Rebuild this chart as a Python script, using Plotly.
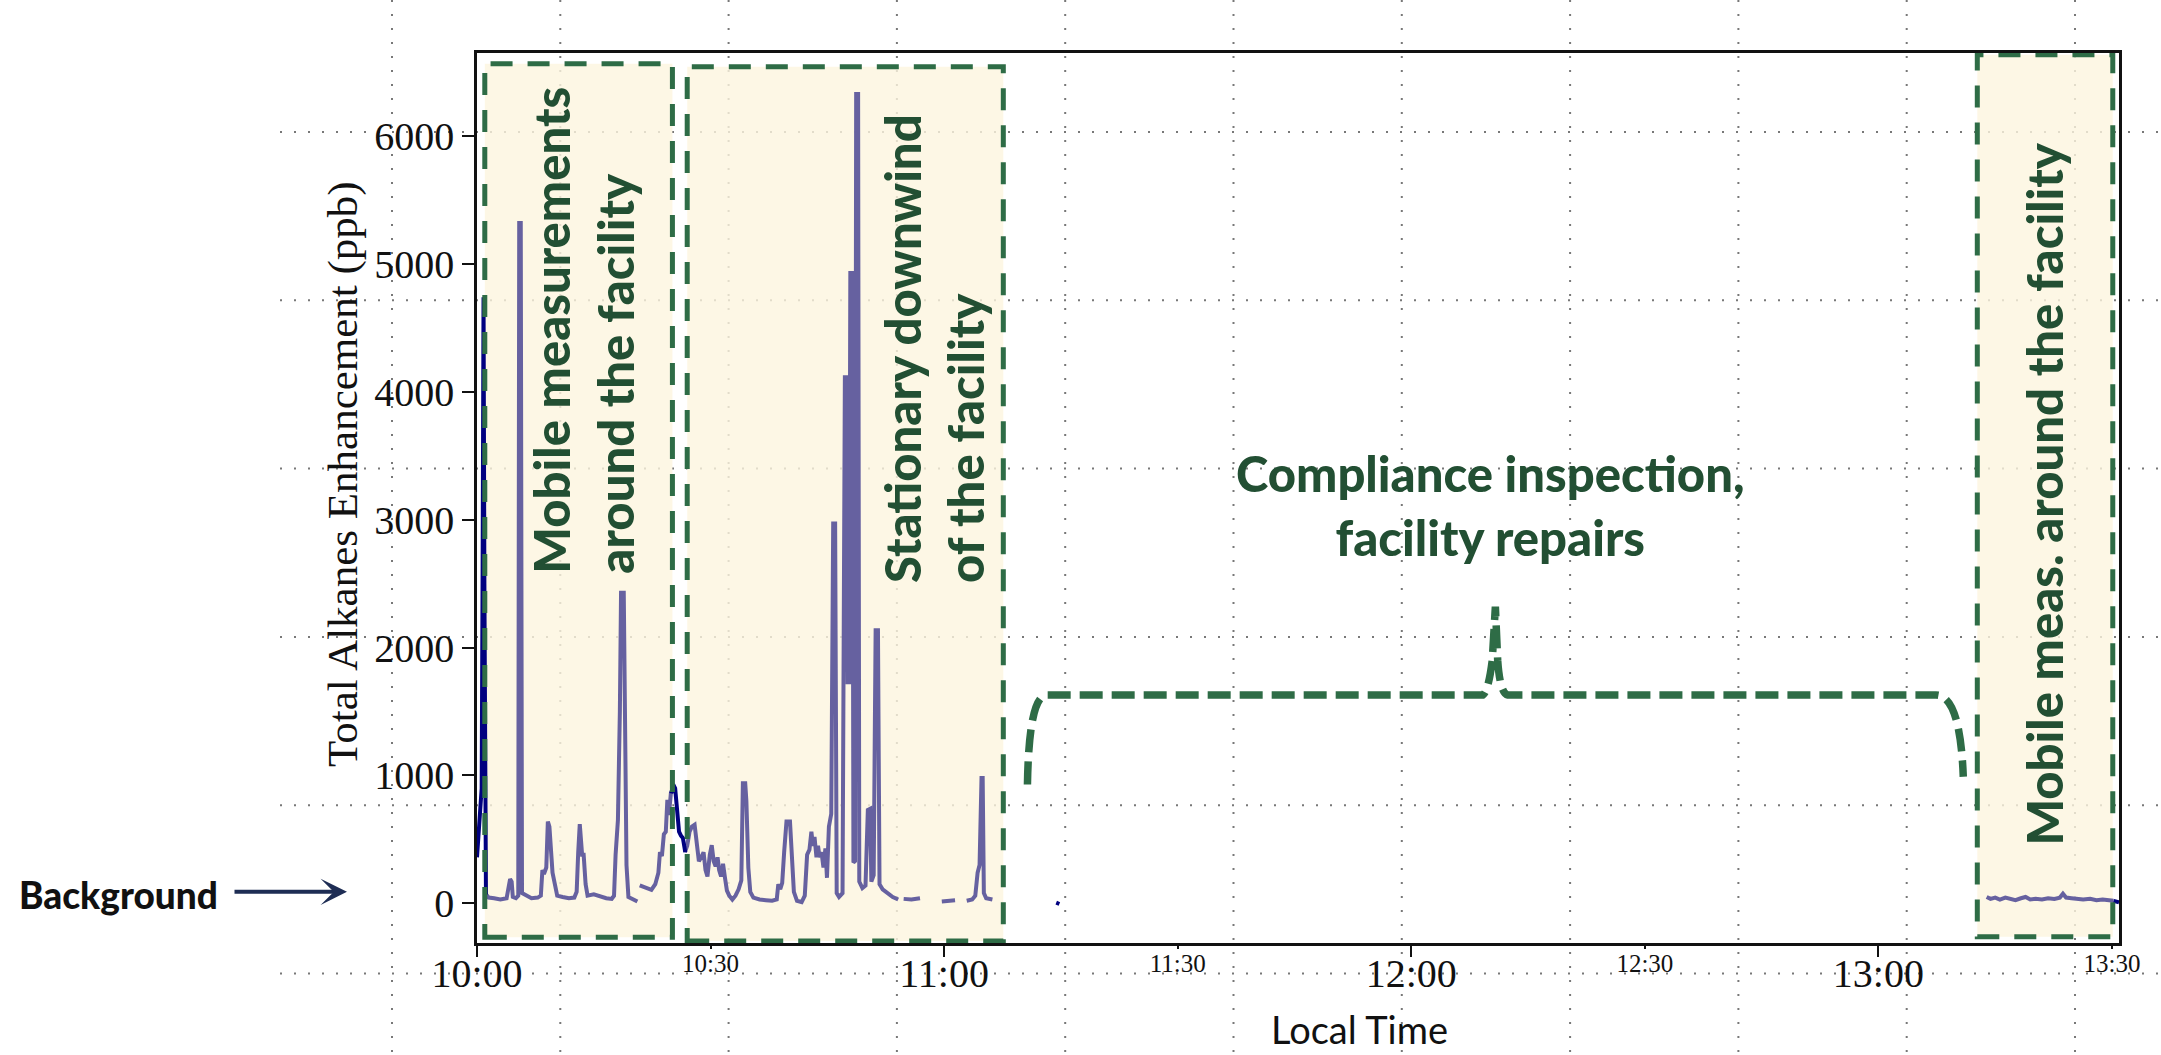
import plotly.graph_objects as go

# ---------------- data (time = minutes after 10:00 local time) ----------------
purple_t = [1.15, 1.5, 2.2, 3.0, 3.8, 4.05, 4.25, 4.45, 4.6, 5.0, 5.3, 5.42, 5.62, 5.78, 6.3, 7.0, 7.8,
            8.2, 8.4, 8.6, 8.9, 9.1, 9.3, 9.5, 9.7, 10.0, 10.3, 11.0, 11.8, 12.5, 12.8, 13.0, 13.2,
            13.5, 13.7, 13.95, 14.2, 15.0, 15.8, 16.6, 17.3, 17.6, 17.8, 18.1, 18.35, 18.5, 18.85,
            19.05, 19.2, 19.45, 20.0, 20.6, None,
            20.9, 21.6, 22.4, 22.9, 23.3, 23.5, 23.75, 24.0, 24.25, 24.45, 24.65, 24.9, 25.05, None,
            26.7, 27.0, 27.3, 27.6, 27.95, 28.2, 28.5, 28.8, 29.1, 29.35, 29.6, 29.9, 30.15, 30.4,
            30.65, 30.9, 31.1, 31.35, 31.6, 31.85, 32.1, 32.4, 32.8, 33.2, 33.6, 33.95, 34.15, 34.45,
            34.6, 34.85, 35.1, 35.5, 36.3, 37.1, 37.9, 38.5, 38.7, 38.95, 39.2, 39.45, 39.75, 40.2,
            40.45, 40.7, 41.1, 41.7, 42.1, 42.4, 42.7, 42.95, 43.15, 43.35, 43.6, 43.8, 44.0, 44.25,
            44.5, 44.75, 44.95, 45.2, 45.5, 45.75, 46.0, 46.2, 46.5, 46.95, 47.25, 47.5, 47.6, 47.8,
            47.95, 48.2, 48.35, 48.55, 48.7, 48.95, 49.1, 49.5, 49.9, 50.2, 50.5, 50.65, 50.95, 51.2,
            51.5, 51.7, 52.1, 52.7, 53.4, 54.1, None,
            54.8, 55.8, 56.9, None,
            59.7, 60.5, 61.4, None,
            62.9, 63.6, 64.0, 64.3, 64.55, 64.8, 64.95, 65.1, 65.4, 66.2, None,
            193.9, 194.4, 195.0, 195.6, 196.3, 197.0, 197.6, 198.3, 198.9, 199.5, 200.2, 201.0,
            201.8, 202.6, 203.3, 203.7, 204.1, 204.8, 205.5, 206.3, 207.2, 208.0, 208.8, 209.6, 210.2]
purple_v = [70, 45, 40, 30, 40, 120, 190, 170, 50, 40, 60, 5320, 5320, 80, 60, 40, 45,
            60, 260, 230, 280, 640, 600, 390, 240, 150, 60, 50, 40, 45, 90, 400, 620,
            380, 380, 150, 60, 70, 55, 40, 35, 60, 380, 650, 1500, 2430, 2430,
            1200, 300, 50, 30, 15, None,
            140, 125, 105, 150, 240, 400, 370, 540, 560, 810, 690, 860, 880, None,
            400, 450, 560, 600, 615, 470, 330, 360, 400, 260, 210, 380, 455, 330,
            290, 360, 260, 210, 310, 200, 100, 60, 30, 60, 110, 180, 940, 940,
            800, 280, 90, 45, 30, 25, 20, 30, 150, 110, 160, 400, 640, 640,
            320, 90, 20, 10, 60, 380, 420, 560, 450, 520, 360, 450, 360, 400,
            280, 430, 200, 600, 700, 2970, 2970, 80, 50, 80, 4115, 4115, 1730, 1730,
            4930, 4930, 320, 330, 6330, 6330, 170, 120, 140, 730, 740, 170, 220, 2135,
            2135, 150, 110, 80, 50, 30, None,
            35, 30, 40, None,
            15, 20, 25, None,
            20, 30, 60, 240, 300, 980, 980, 80, 40, 30, None,
            50, 35, 45, 30, 45, 35, 25, 40, 50, 30, 35, 30,
            40, 35, 45, 75, 45, 40, 35, 30, 35, 25, 30, 25, 20]

navy_t = [0.0, 0.25, 0.45, 0.6, 0.72, 0.84, 0.95, 1.05, 1.15, None,
          24.95, 25.2, 25.45, 25.7, 25.95, 26.2, 26.45, 26.75, None,
          74.4, 74.8, None,
          210.2, 210.6, 210.9]
navy_v = [360, 600, 860, 900, 2600, 4740, 2500, 600, 70, None,
          860, 930, 900, 680, 560, 530, 510, 400, None,
          5, -5, None,
          20, 12, 8]

# shaded measurement periods
box_t0 = [1.0, 27.0, 192.7]
box_t1 = [25.1, 67.6, 210.1]
box_v0 = [-265, -295, -262]
box_v1 = [6566, 6543, 6637]
box_labels = ["Mobile measurements<br>around the facility",
              "Stationary downwind<br>of the facility",
              "Mobile meas. around the facility"]
box_label_t = [13.6, 58.6, 201.3]
box_label_v = [2566, 2488, 434]

# brace marking the inspection period (t, ppb)
brace_t = [70.7, 70.9, 71.5, 73.2, 129.2, 129.9, 130.4, 130.8, 131.1, 131.4, 132.4, 187.4, 189.8, 190.5, 190.9]
brace_v = [930, 1500, 1629, 1629, 1629, 1660, 1900, 2320, 1900, 1640, 1629, 1629, 1629, 1500, 990]
brace_label = "Compliance inspection,<br>facility repairs"
brace_label_t = 130.2
brace_label_v = 3113

x_major_vals = [0, 60, 120, 180]
x_major_text = ["10:00", "11:00", "12:00", "13:00"]
x_minor_vals = [30, 90, 150, 210]
x_minor_text = ["10:30", "11:30", "12:30", "13:30"]
y_tick_vals = [0, 1000, 2000, 3000, 4000, 5000, 6000]
x_range = [0, 210.9]
y_range = [-310, 6650]

# ---------------- styling / layout geometry ----------------
W, H = 2161, 1055
L, R, T, B = 477, 2119, 53, 943          # plot area in pixels
GREEN = "#2e6c46"
TEXTGREEN = "#224f33"
SERIF = "Liberation Serif, Times New Roman, serif"
SANS = "Lato, Open Sans, sans-serif"


def px_x(p):
    return (p - L) / (R - L)


def px_y(p):
    return (B - p) / (B - T)


fig = go.Figure()
fig.add_trace(go.Scatter(x=purple_t, y=purple_v, mode="lines",
                         line=dict(color="rgb(102,97,160)", width=4),
                         connectgaps=False, showlegend=False, hoverinfo="skip"))
fig.add_trace(go.Scatter(x=navy_t, y=navy_v, mode="lines", xaxis="x2",
                         line=dict(color="rgb(0,0,128)", width=4),
                         connectgaps=False, showlegend=False, hoverinfo="skip"))

shapes = []
# background dotted guide grid (page-level)
step = 168.3
for k in range(6):
    yy = 132 + k * step
    shapes.append(dict(type="line", xref="paper", yref="paper", layer="below",
                       x0=px_x(280), x1=px_x(W), y0=px_y(yy), y1=px_y(yy),
                       line=dict(color="rgb(120,120,120)", width=2, dash="2px,12px")))
for k in range(11):
    xx = 392 + k * step
    shapes.append(dict(type="line", xref="paper", yref="paper", layer="below",
                       x0=px_x(xx), x1=px_x(xx), y0=px_y(0), y1=px_y(H),
                       line=dict(color="rgb(120,120,120)", width=2, dash="2px,12px")))
# boxes: fills below, dashed borders above
for a, b, c, d in zip(box_t0, box_t1, box_v0, box_v1):
    shapes.append(dict(type="rect", xref="x", yref="y", layer="below",
                       x0=a, x1=b, y0=c, y1=d, fillcolor="rgb(252,245,222)",
                       opacity=0.8, line=dict(width=0)))
for a, b, c, d in zip(box_t0, box_t1, box_v0, box_v1):
    shapes.append(dict(type="rect", xref="x", yref="y", layer="above",
                       x0=a, x1=b, y0=c, y1=d,
                       line=dict(color=GREEN, width=5, dash="22px,15px")))
# brace path
bt, bv = brace_t, brace_v
path = (f"M{bt[0]},{bv[0]} Q{bt[1]},{bv[2]} {bt[3]},{bv[3]} L{bt[4]},{bv[4]} "
        f"Q{bt[5]},{bv[5]} {bt[6]},{bv[6]} L{bt[7]},{bv[7]} L{bt[8]},{bv[8]} "
        f"Q{bt[9]},{bv[9]} {bt[10]},{bv[10]} L{bt[11]},{bv[11]} "
        f"Q{bt[13]},{bv[12]} {bt[14]},{bv[14]}")
shapes.append(dict(type="path", xref="x", yref="y", layer="above", path=path,
                   line=dict(color=GREEN, width=7.5, dash="23px,9px")))

annotations = []
for txt, t, v in zip(box_labels, box_label_t, box_label_v):
    annotations.append(dict(x=t, y=v, xref="x", yref="y", text=txt, textangle=-90,
                            showarrow=False, align="left", xanchor="center", yanchor="bottom",
                            font=dict(family=SANS, size=49, color=TEXTGREEN, weight=900)))
annotations.append(dict(x=brace_label_t, y=brace_label_v, xref="x", yref="y", text=brace_label,
                        showarrow=False, align="center", xanchor="center", yanchor="middle",
                        font=dict(family=SANS, size=49, color=TEXTGREEN, weight=900)))
# background arrow + label
annotations.append(dict(x=px_x(347), y=90, xref="paper", yref="y", text="", showarrow=True,
                        ax=-114, ay=0, arrowhead=3, arrowsize=1.1, arrowwidth=4,
                        arrowcolor="#1e2d54"))
annotations.append(dict(x=px_x(118), y=px_y(894), xref="paper", yref="paper", text="Background",
                        showarrow=False, xanchor="center", yanchor="middle",
                        font=dict(family=SANS, size=37, color="#111111", weight=900)))
# axis titles
annotations.append(dict(x=px_x(343), y=px_y(474), xref="paper", yref="paper",
                        text="Total Alkanes Enhancement (ppb)", textangle=-90, showarrow=False,
                        xanchor="center", yanchor="middle",
                        font=dict(family=SERIF, size=43, color="#111111")))
annotations.append(dict(x=px_x(1359), y=px_y(1029), xref="paper", yref="paper",
                        text="Local Time", showarrow=False, xanchor="center", yanchor="middle",
                        font=dict(family=SANS, size=38, color="#111111")))

fig.update_layout(
    width=W, height=H,
    margin=dict(l=L, r=W - R, t=T, b=H - B, pad=0),
    paper_bgcolor="white", plot_bgcolor="rgba(0,0,0,0)",
    showlegend=False,
    shapes=shapes, annotations=annotations,
    xaxis=dict(range=x_range, tickvals=x_major_vals, ticktext=x_major_text,
               ticks="outside", ticklen=11, tickwidth=2, tickcolor="#111",
               ticklabelstandoff=-18,
               tickfont=dict(family=SERIF, size=40, color="#111"),
               showline=True, linewidth=2.5, linecolor="#111", mirror=True,
               showgrid=False, zeroline=False),
    xaxis2=dict(range=x_range, overlaying="x", anchor="y", side="bottom",
                tickvals=x_minor_vals, ticktext=x_minor_text,
                ticks="outside", ticklen=5, tickwidth=2, tickcolor="#111",
                ticklabelstandoff=-7,
                tickfont=dict(family=SERIF, size=25, color="#111"),
                showline=False, showgrid=False, zeroline=False),
    yaxis=dict(range=y_range, tickvals=y_tick_vals, ticks="outside", ticklen=12, tickwidth=2,
               tickcolor="#111", tickfont=dict(family=SERIF, size=40, color="#111"),
               showline=True, linewidth=2.5, linecolor="#111", mirror=True,
               showgrid=False, zeroline=False),
)

fig.write_html("out.html", config={"displayModeBar": False},
               post_script="document.body.style.margin='0';document.body.style.overflow='hidden';")
